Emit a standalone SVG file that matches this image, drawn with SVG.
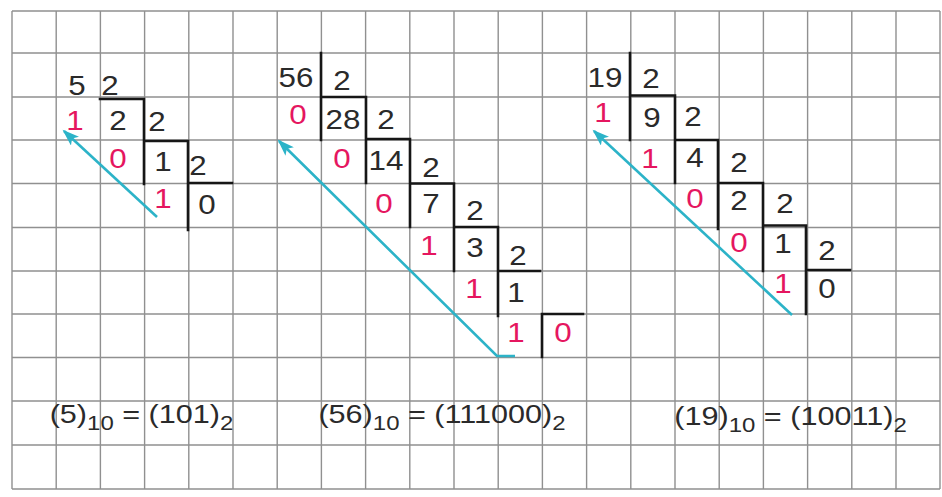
<svg xmlns="http://www.w3.org/2000/svg" width="942" height="497" viewBox="0 0 942 497">
<style>
  .grid{stroke:#909090;stroke-width:1.4;fill:none}
  .br{stroke:#161616;stroke-width:2.6;fill:none;stroke-linecap:square}
  .n{font-family:"Liberation Sans",Arial,sans-serif;font-size:27px;text-anchor:middle;fill:#2a2a2a;transform-box:fill-box;transform-origin:center;transform:scaleX(1.16)}
  .r{fill:#e5165f}
  .eq{font-family:"Liberation Sans",Arial,sans-serif;font-size:25.5px;text-anchor:middle;fill:#2a2a2a}
  .sub{font-size:20px}
  .arr{stroke:#2cb3c8;stroke-width:2.6;fill:none}
</style>
<defs>
  <marker id="ah" markerWidth="18" markerHeight="12" refX="15" refY="6" orient="auto" markerUnits="userSpaceOnUse">
    <path d="M0,0 L17,6 L0,12 L4,6 Z" fill="#2cb3c8"/>
  </marker>
</defs>
<rect x="0" y="0" width="942" height="497" fill="#ffffff"/>
<g id="grid" class="grid">
  <path d="M12,11V489 M56.2,11V489 M100.4,11V489 M144.6,11V489 M188.8,11V489 M233,11V489 M277.2,11V489 M321.4,11V489 M365.6,11V489 M409.8,11V489 M454,11V489 M498.2,11V489 M542.4,11V489 M586.6,11V489 M630.8,11V489 M675,11V489 M719.2,11V489 M763.4,11V489 M807.6,11V489 M851.8,11V489 M896,11V489 M940,11V489"/>
  <path d="M12,11H940 M12,53H940 M12,97H940 M12,140H940 M12,183.5H940 M12,227.5H940 M12,271H940 M12,314H940 M12,357.5H940 M12,401H940 M12,445H940 M12,489H940"/>
</g>
<g id="div5">
  <path class="br" d="M100,99H144V184 M144,141H188V230 M188,183H232"/>
  <text class="n" x="77" y="95">5</text>
  <text class="n" x="110" y="95">2</text>
  <text class="n r" x="75" y="130">1</text>
  <text class="n" x="118" y="130">2</text>
  <text class="n" x="157" y="131">2</text>
  <text class="n r" x="118" y="168">0</text>
  <text class="n" x="163" y="171">1</text>
  <text class="n" x="198" y="175">2</text>
  <text class="n r" x="163" y="208">1</text>
  <text class="n" x="207" y="214">0</text>
</g>
<g id="div56">
  <path class="br" d="M321,53V140 M321,97H366V183 M366,139H410V227 M410,183.5H454V271 M454,227H498V316 M498,271H540 M542,314H583 M542,314V357"/>
  <text class="n" x="296" y="87">56</text>
  <text class="n" x="342" y="90">2</text>
  <text class="n r" x="298" y="124">0</text>
  <text class="n" x="343" y="129">28</text>
  <text class="n" x="386" y="129">2</text>
  <text class="n r" x="342" y="168">0</text>
  <text class="n" x="386" y="170">14</text>
  <text class="n" x="431" y="177">2</text>
  <text class="n r" x="384" y="213">0</text>
  <text class="n" x="431" y="213">7</text>
  <text class="n" x="475" y="220">2</text>
  <text class="n r" x="429" y="255">1</text>
  <text class="n" x="475" y="257">3</text>
  <text class="n" x="518" y="265">2</text>
  <text class="n r" x="474" y="298">1</text>
  <text class="n" x="516" y="302">1</text>
  <text class="n r" x="516" y="342">1</text>
  <text class="n r" x="563" y="342">0</text>
</g>
<g id="div19">
  <path class="br" d="M630,53V140 M630,95.5H675V183 M675,140H718V229 M718,183H763V271 M763,225.5H806V314 M806,270H850"/>
  <text class="n" x="605" y="87">19</text>
  <text class="n" x="651" y="88">2</text>
  <text class="n r" x="603" y="122">1</text>
  <text class="n" x="652" y="127">9</text>
  <text class="n" x="693" y="126">2</text>
  <text class="n r" x="650" y="168">1</text>
  <text class="n" x="695" y="167">4</text>
  <text class="n" x="739" y="172">2</text>
  <text class="n r" x="695" y="208">0</text>
  <text class="n" x="739" y="210">2</text>
  <text class="n" x="785" y="213">2</text>
  <text class="n r" x="739" y="252">0</text>
  <text class="n" x="783" y="253">1</text>
  <text class="n" x="827" y="260">2</text>
  <text class="n r" x="783" y="293">1</text>
  <text class="n" x="827" y="298">0</text>
</g>
<g id="connectors">
  <path class="arr" d="M157,217L64,131" marker-end="url(#ah)"/>
  <path class="arr" d="M515,356H497L279,141" marker-end="url(#ah)"/>
  <path class="arr" d="M792,315L594,131" marker-end="url(#ah)"/>
</g>
<g id="equations">
  <text class="eq" transform="translate(141.5 423) scale(1.2 1)">(5)<tspan class="sub" dy="7">10</tspan><tspan dy="-7"> = (101)</tspan><tspan class="sub" dy="7">2</tspan></text>
  <text class="eq" transform="translate(442 423) scale(1.2 1)">(56)<tspan class="sub" dy="7">10</tspan><tspan dy="-7"> = (111000)</tspan><tspan class="sub" dy="7">2</tspan></text>
  <text class="eq" transform="translate(790.5 425) scale(1.2 1)">(19)<tspan class="sub" dy="7">10</tspan><tspan dy="-7"> = (10011)</tspan><tspan class="sub" dy="7">2</tspan></text>
</g>
</svg>
